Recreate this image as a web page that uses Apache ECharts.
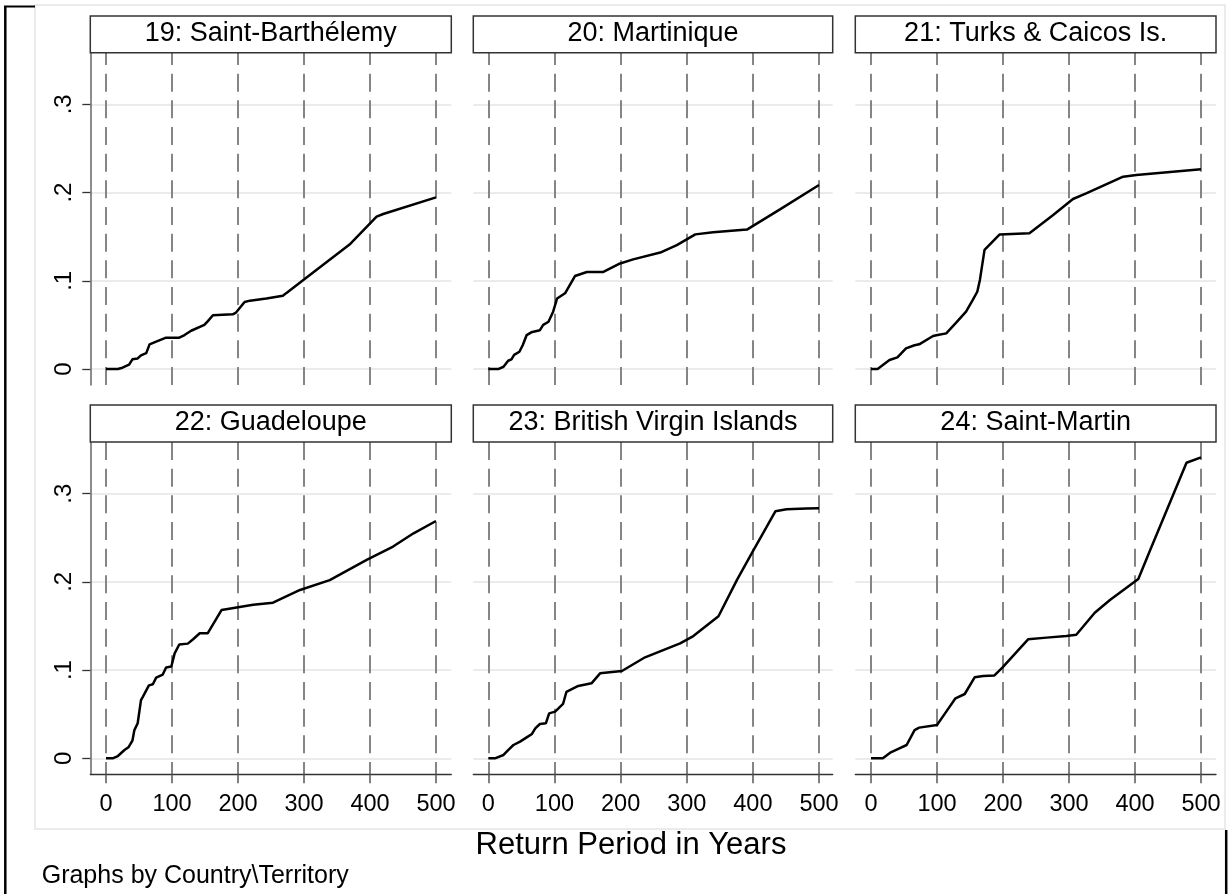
<!DOCTYPE html>
<html>
<head>
<meta charset="utf-8">
<title>Return period by country/territory</title>
<script src="https://cdn.jsdelivr.net/npm/echarts@6/dist/echarts.min.js"></script>
<style>
  html, body { margin: 0; padding: 0; background: #fff; }
  #main { width: 1231px; height: 894px; }
</style>
</head>
<body>
<div id="main"></div>
<script>
// panel headers
var panelNames = ['19: Saint-Barthélemy', '20: Martinique', '21: Turks & Caicos Is.',
                  '22: Guadeloupe', '23: British Virgin Islands', '24: Saint-Martin'];
var xTicks = [0, 100, 200, 300, 400, 500];
var yTicks = [0, 0.1, 0.2, 0.3];

// [return period in years, value]
var stBarth = [[0,0],[18,0],[25,0.0015],[35,0.005],[40,0.011],[48,0.012],[53,0.0155],[61,0.018],[66,0.028],[76,0.031],
  [91,0.0355],[111,0.0355],[119,0.0385],[129,0.0434],[149,0.050],[154,0.054],[162,0.061],[192,0.062],[197,0.064],
  [210,0.076],[218,0.0775],[243,0.080],[268,0.083],[273,0.086],[299,0.101],[369,0.141],[410,0.1727],[420,0.1757],[500,0.1946]];
var martinique = [[0,0],[15,0],[23,0.0026],[30,0.0094],[35,0.011],[39,0.016],[47,0.0196],[52,0.027],[58,0.0385],[65,0.0416],
  [78,0.044],[83,0.050],[91,0.0536],[98,0.065],[104,0.080],[116,0.0858],[131,0.1054],[149,0.110],[174,0.110],[197,0.119],
  [219,0.1243],[260,0.132],[285,0.1405],[313,0.1526],[340,0.155],[391,0.158],[441,0.181],[500,0.2085]];
var turksCaicos = [[0,0],[10,0],[28,0.0102],[40,0.0132],[53,0.0234],[66,0.027],[73,0.028],[94,0.0374],[101,0.0385],
  [114,0.0404],[129,0.0525],[144,0.065],[154,0.078],[161,0.0876],[165,0.101],[172,0.135],[195,0.1526],[240,0.1538],
  [276,0.1745],[306,0.1927],[326,0.199],[382,0.218],[402,0.220],[500,0.2263]];
var guadeloupe = [[0,0],[10,0],[18,0.0026],[28,0.0094],[34,0.0125],[40,0.020],[43,0.032],[48,0.0397],[53,0.066],[56,0.070],
  [65,0.0827],[71,0.0839],[76,0.0914],[86,0.095],[91,0.103],[99,0.104],[104,0.119],[111,0.129],[124,0.130],[132,0.135],
  [142,0.1417],[154,0.1417],[175,0.168],[182,0.169],[223,0.174],[253,0.1764],[294,0.1908],[339,0.202],[395,0.2248],
  [435,0.240],[466,0.255],[500,0.269]];
var bvi = [[0,0],[10,0],[23,0.0038],[30,0.0094],[38,0.0151],[48,0.0189],[58,0.0238],[66,0.0276],[71,0.034],[78,0.0389],
  [87,0.0397],[92,0.051],[101,0.0529],[113,0.0616],[118,0.0752],[136,0.082],[156,0.085],[169,0.0963],[187,0.0978],
  [202,0.099],[237,0.1145],[290,0.1303],[310,0.1386],[348,0.161],[376,0.2023],[398,0.232],[434,0.280],[451,0.2822],
  [481,0.283],[500,0.2833]];
var stMartin = [[0,0],[18,0],[30,0.0068],[43,0.0113],[54,0.0151],[66,0.032],[73,0.0348],[100,0.0378],[114,0.0529],
  [128,0.068],[142,0.0729],[157,0.0918],[170,0.0933],[187,0.094],[199,0.1028],[238,0.1349],[266,0.1368],[296,0.1386],
  [311,0.140],[339,0.165],[362,0.1794],[405,0.2033],[423,0.236],[478,0.335],[500,0.341]];

var panelData = [stBarth, martinique, turksCaicos, guadeloupe, bvi, stMartin];

// layout (pixels)
var FONT = '"Liberation Sans", Arial, sans-serif';
var cols = [{left: 90.3, width: 361, min: -23.8, max: 523.2},
            {left: 473.3, width: 359.4, min: -22.7, max: 520.7},
            {left: 855.3, width: 360.7, min: -23.8, max: 522.7}];
var rows = [{top: 52.7, height: 332.3, box: 16, dash: 5.7},
            {top: 442, height: 332.3, box: 405, dash: 0}];

function stataNum(v) {
  if (v === 0) return '0';
  return String(Math.round(v * 10) / 10).replace(/^0/, '');
}

var grids = [], xAxes = [], yAxes = [], series = [], graphics = [];

// outer graph region + border bits
graphics.push({type: 'rect', z: 0, shape: {x: 35, y: 5, width: 1190, height: 824},
  style: {fill: 'none', stroke: '#ebebeb', lineWidth: 2}});
graphics.push({type: 'line', shape: {x1: 5.3, y1: 6, x2: 5.3, y2: 894}, style: {stroke: '#000', lineWidth: 2.5}});
graphics.push({type: 'line', shape: {x1: 4, y1: 6.5, x2: 35, y2: 6.5}, style: {stroke: '#000', lineWidth: 2}});
graphics.push({type: 'line', shape: {x1: 1226.2, y1: 830, x2: 1226.2, y2: 894}, style: {stroke: '#000', lineWidth: 2.5}});

for (var i = 0; i < 6; i++) {
  var c = cols[i % 3], r = rows[Math.floor(i / 3)];
  var bottomRow = i >= 3, firstCol = i % 3 === 0;

  grids.push({left: c.left, top: r.top, width: c.width, height: r.height, containLabel: false});

  xAxes.push({
    type: 'value', gridIndex: i, min: c.min, max: c.max,
    axisLine: {show: bottomRow, onZero: false, lineStyle: {color: '#333', width: 1.3}},
    axisTick: {show: bottomRow, length: 9, customValues: xTicks, lineStyle: {color: '#555', width: 1.5}},
    axisLabel: {show: bottomRow, customValues: xTicks, margin: 18, fontSize: 23.5, color: '#000', fontFamily: FONT},
    splitLine: {show: true, lineStyle: {color: '#858585', width: 2, type: [18, 8.67], dashOffset: r.dash}}
  });

  yAxes.push({
    type: 'value', gridIndex: i, min: -0.0181, max: 0.3585,
    axisLine: {show: firstCol, onZero: false, lineStyle: {color: '#666', width: 1.5}},
    axisTick: {show: firstCol, length: 8, customValues: yTicks, lineStyle: {color: '#333', width: 1.3}},
    axisLabel: {show: firstCol, customValues: yTicks, rotate: 90, margin: 14, fontSize: 24, color: '#000',
                fontFamily: FONT, formatter: stataNum},
    splitLine: {show: true, lineStyle: {color: '#e4e4e4', width: 1.6}}
  });

  series.push({
    name: panelNames[i], type: 'line', xAxisIndex: i, yAxisIndex: i,
    data: panelData[i], showSymbol: false, symbol: 'none', z: 5,
    lineStyle: {color: '#000', width: 2.5}
  });

  // header strip
  graphics.push({type: 'rect', z: 10, shape: {x: c.left, y: r.box, width: c.width, height: r.top - r.box},
    style: {fill: '#fff', stroke: '#333', lineWidth: 1.5}});
  graphics.push({type: 'text', z: 11, x: c.left + c.width / 2, y: r.box + 17.5,
    style: {text: panelNames[i], fill: '#000', font: '27px ' + FONT, textAlign: 'center', textVerticalAlign: 'middle'}});
}

graphics.push({type: 'text', x: 631, y: 845.5,
  style: {text: 'Return Period in Years', fill: '#000', font: '31px ' + FONT, textAlign: 'center', textVerticalAlign: 'middle'}});
graphics.push({type: 'text', x: 41.7, y: 876,
  style: {text: 'Graphs by Country\\Territory', fill: '#000', font: '25px ' + FONT, textAlign: 'left', textVerticalAlign: 'middle'}});

var chart = echarts.init(document.getElementById('main'));
chart.setOption({
  animation: false,
  backgroundColor: '#fff',
  grid: grids,
  xAxis: xAxes,
  yAxis: yAxes,
  series: series,
  graphic: graphics
});
</script>
</body>
</html>
